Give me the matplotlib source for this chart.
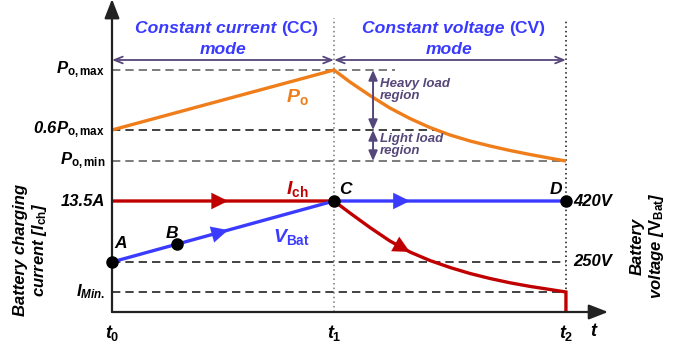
import numpy as np
import matplotlib
matplotlib.use("Agg")
import matplotlib.pyplot as plt

plt.rcParams['font.family'] = ['Liberation Sans', 'DejaVu Sans']
plt.rcParams['mathtext.fontset'] = 'custom'
plt.rcParams['mathtext.rm'] = 'Liberation Sans:weight=bold'
plt.rcParams['mathtext.it'] = 'Liberation Sans:style=italic:weight=bold'
plt.rcParams['mathtext.bf'] = 'Liberation Sans:weight=bold'

# time marks (t0, t1, t2)
t_marks = [0.0, 1.0, 2.045]
t_names = [r'$\mathit{t}_{\mathrm{0}}$', r'$\mathit{t}_{\mathrm{1}}$', r'$\mathit{t}_{\mathrm{2}}$']

# levels on the schematic vertical scale
p_max = 24.2
p_06 = 18.2
p_min = 15.1
i_cc = 11.1        # 13.5A / 420V
v_250 = 5.0
i_min = 2.0

# CC stage: straight segments between t0 and t1
cc_t = [0.0, 1.0]
po_cc = [p_06, p_max]
ich_cc = [i_cc, i_cc]
vbat_cc = [v_250, i_cc]

# CV stage: readings along the decaying curves
cv_t = [1.0, 1.072, 1.162, 1.252, 1.342, 1.432, 1.523, 1.613, 1.703, 1.793, 1.883, 1.973, 2.045]
po_cv = [24.2, 23.0, 21.65, 20.4, 19.35, 18.45, 17.7, 17.1, 16.6, 16.15, 15.75, 15.38, 15.1]
ich_cv = [11.1, 9.9, 8.45, 7.1, 6.0, 5.15, 4.45, 3.85, 3.35, 2.92, 2.56, 2.25, 2.0]
vbat_cv = [11.1, 11.1]

# operating points A, B, C, D
pt_names = ['A', 'B', 'C', 'D']
pt_t = [0.0, 0.293, 1.0, 2.045]
pt_v = [5.0, 6.8, 11.1, 11.1]

c_orange = '#ef7d1a'
c_red = '#c00000'
c_blue = '#3b3bff'
c_txt_blue = '#3a3aff'
c_purple = '#55477a'
c_gray = '#666666'
c_dark = '#222222'

fig = plt.figure(figsize=(6.95, 3.49), dpi=100)
ax = fig.add_axes([112 / 695, 37 / 349, 503 / 695, 310 / 349])
ax.set_xlim(0, 2.266)
ax.set_ylim(0, 31.0)
ax.axis('off')

# axes with arrow heads
ax.annotate('', xy=(0, 31.3), xytext=(0, 0), annotation_clip=False,
            arrowprops=dict(arrowstyle='-|>,head_length=0.9,head_width=0.35',
                            mutation_scale=13, lw=1.6, color=c_dark, shrinkA=0, shrinkB=0))
ax.annotate('', xy=(2.235, 0), xytext=(0, 0), annotation_clip=False,
            arrowprops=dict(arrowstyle='-|>,head_length=0.9,head_width=0.35',
                            mutation_scale=13, lw=1.6, color=c_dark, shrinkA=0, shrinkB=0))

# dotted stage boundaries
ax.plot([t_marks[1]] * 2, [0, 29.4], ls=(0, (1, 2)), color='#777777', lw=1.1)
ax.plot([t_marks[2]] * 2, [0, 29.2], ls=(0, (1, 2)), color='#111111', lw=1.1)

# dashed reference levels
dash = (0, (5, 3))
ax.plot([0, 1.275], [p_max] * 2, ls=dash, color=c_gray, lw=1.2)
ax.plot([0, 1.46], [p_06] * 2, ls=dash, color=c_dark, lw=1.2)
ax.plot([0, t_marks[2]], [p_min] * 2, ls=dash, color=c_gray, lw=1.2)
ax.plot([0, t_marks[2]], [v_250] * 2, ls=dash, color=c_dark, lw=1.2)
ax.plot([0, t_marks[2]], [i_min] * 2, ls=dash, color=c_dark, lw=1.2)

# mode spans
for a, b in [(t_marks[0], t_marks[1]), (t_marks[1], t_marks[2])]:
    ax.annotate('', xy=(b, 25.2), xytext=(a, 25.2),
                arrowprops=dict(arrowstyle='<->,head_length=0.5,head_width=0.2',
                                mutation_scale=12, lw=1.3, color=c_purple,
                                shrinkA=0, shrinkB=0))

# heavy / light load spans
for a, b in [(p_max, p_06), (p_06, p_min)]:
    ax.annotate('', xy=(1.176, b), xytext=(1.176, a),
                arrowprops=dict(arrowstyle='<|-|>,head_length=0.5,head_width=0.22',
                                mutation_scale=12, lw=1.4, color=c_purple,
                                shrinkA=0, shrinkB=0))

# curves
ax.plot(cc_t + cv_t, po_cc + po_cv, color=c_orange, lw=2.4, solid_capstyle='butt')
ax.plot(cc_t + cv_t + [t_marks[2]], ich_cc + ich_cv + [0.0], color=c_red, lw=2.4,
        solid_joinstyle='miter')
ax.plot(cc_t + [t_marks[1], t_marks[2]], vbat_cc + vbat_cv, color=c_blue, lw=2.4)


def flow_arrow(ts, vs, t_tip, dt, color):
    x0 = t_tip - dt
    ax.annotate('', xy=(t_tip, np.interp(t_tip, ts, vs)),
                xytext=(x0, np.interp(x0, ts, vs)),
                arrowprops=dict(arrowstyle='-|>,head_length=0.85,head_width=0.42',
                                mutation_scale=14, lw=0.1, color=color,
                                shrinkA=0, shrinkB=0))


flow_arrow(cc_t, ich_cc, 0.523, 0.08, c_red)
flow_arrow(cc_t, vbat_cc, 0.523, 0.08, c_blue)
flow_arrow([1.0, 2.045], vbat_cv, 1.342, 0.08, c_blue)
flow_arrow(cv_t, ich_cv, 1.342, 0.07, c_red)

# operating points
ax.plot(pt_t, pt_v, 'o', color='black', ms=8, zorder=5, clip_on=False)
pt_off = [(0.04, 6.9), (0.27, 7.9), (1.05, 12.2), (2.0, 12.2)]
for name, (x, y) in zip(pt_names, pt_off):
    ax.text(x, y, name, fontsize=12.5, fontweight='bold', fontstyle='italic',
            ha='center', va='center')

# curve labels
ax.text(0.833, 21.5, r'$\mathit{P}_{\mathrm{o}}$', color=c_orange, fontsize=14,
        ha='center', va='center')
ax.text(0.833, 12.3, r'$\mathit{I}_{\mathrm{ch}}$', color=c_red, fontsize=14,
        ha='center', va='center')
ax.text(0.806, 7.5, r'$\mathit{V}_{\mathrm{Bat}}$', color=c_blue, fontsize=14,
        ha='center', va='center')

# left level labels
left_labels = [r'$\mathit{P}_{\mathrm{o,max}}$', r'0.6$\mathit{P}_{\mathrm{o,max}}$',
               r'$\mathit{P}_{\mathrm{o,min}}$', '13.5A',
               r'$\mathit{I}_{\mathit{Min.}}$']
left_levels = [p_max, p_06, p_min, i_cc, i_min]
for lab, lev in zip(left_labels, left_levels):
    ax.annotate(lab, xy=(0, lev), xytext=(-5, 0), textcoords='offset points',
                ha='right', va='center', fontsize=12, fontweight='bold',
                fontstyle='italic', annotation_clip=False)

# right level labels
for lab, lev in zip(['420V', '250V'], [i_cc, v_250]):
    ax.annotate(lab, xy=(t_marks[2], lev), xytext=(5, 0), textcoords='offset points',
                ha='left', va='center', fontsize=12, fontweight='bold',
                fontstyle='italic', annotation_clip=False)

# time labels
for tm, nm in zip(t_marks, t_names):
    ax.text(tm, -2.1, nm, fontsize=13, ha='center', va='center')
ax.text(2.17, -1.9, 't', fontsize=13, fontweight='bold', fontstyle='italic',
        ha='center', va='center')

# mode titles
title_kw = dict(color=c_txt_blue, fontsize=12.6, fontweight='bold')
cc = ax.text(0.104, 27.9, 'Constant current', fontstyle='italic', ha='left',
             va='baseline', **title_kw)
ax.annotate('(CC)', xy=(1, 0), xycoords=cc, xytext=(3.5, 0), textcoords='offset points',
            ha='left', va='bottom', **title_kw)
ax.text(0.5, 25.8, 'mode', fontstyle='italic', ha='center', va='baseline', **title_kw)
cv = ax.text(1.126, 27.9, 'Constant voltage', fontstyle='italic', ha='left',
             va='baseline', **title_kw)
ax.annotate('(CV)', xy=(1, 0), xycoords=cv, xytext=(3.5, 0), textcoords='offset points',
            ha='left', va='bottom', **title_kw)
ax.text(1.52, 25.8, 'mode', fontstyle='italic', ha='center', va='baseline', **title_kw)

# load region notes
ax.text(1.207, 22.2, 'Heavy load\nregion', color=c_purple, fontsize=9.5,
        fontweight='bold', fontstyle='italic', ha='left', va='center', linespacing=1.1)
ax.text(1.207, 16.7, 'Light load\nregion', color=c_purple, fontsize=9.5,
        fontweight='bold', fontstyle='italic', ha='left', va='center', linespacing=1.1)

# side axis titles
ax.text(-0.365, 6.2, 'Battery charging\ncurrent [$\\mathit{I}_{\\mathrm{ch}}$]',
        rotation=90, fontsize=12, fontweight='bold', fontstyle='italic',
        ha='center', va='center', linespacing=1.15)
ax.text(2.414, 6.6, 'Battery\nvoltage [$\\mathrm{V}_{\\mathrm{Bat}}$]',
        rotation=90, fontsize=12, fontweight='bold', fontstyle='italic',
        ha='center', va='center', linespacing=1.15)

fig.savefig('out.png', dpi=100)
